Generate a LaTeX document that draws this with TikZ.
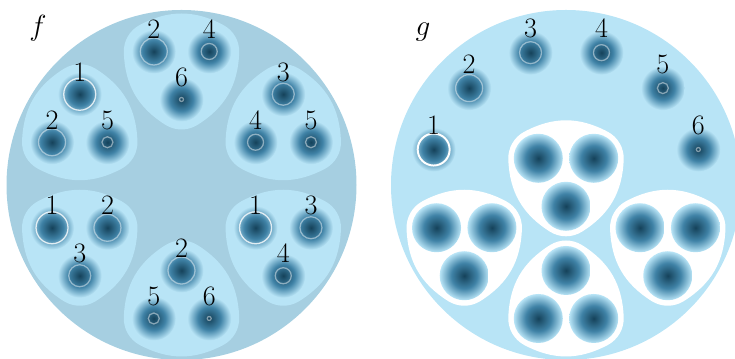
\documentclass[tikz,border=0pt]{standalone}
\usetikzlibrary{calc}

\definecolor{fondF}{HTML}{A6CFE1}
\definecolor{clair}{HTML}{B8E4F6}
\definecolor{sombre}{HTML}{15425A}
\definecolor{moyen}{HTML}{3F82A6}
\pgfdeclareradialshading{lueur}{\pgfpoint{0bp}{0bp}}{color(0bp)=(sombre); color(13bp)=(moyen); color(25bp)=(clair); color(50bp)=(clair)}

\tikzset{
  anneau/.style={draw=white, line width=.9pt},
  numero/.style={anchor=base, inner sep=0pt, font=\fontsize{20}{23}\selectfont},
}

% bulle arrondie : couleur, centre, rotation
\newcommand{\bulle}[3]{%
  \fill[#1, shift={(#2)}, rotate=#3] (0:32) ++(-32:30) arc[start angle=-32, end angle=32, radius=30]
    to[bend right=28] ([shift={(120:32)}]88:30) arc[start angle=88, end angle=152, radius=30]
    to[bend right=28] ([shift={(240:32)}]208:30) arc[start angle=208, end angle=272, radius=30]
    to[bend right=28] ([shift={(0:32)}]328:30) -- cycle;}

% tache numerotee : [anneau], nom, position, numero, decalage du numero
\newcommand{\tache}[5][anneau]{%
  \edef\rayonanneau{\ifcase#4 0\or 16\or 13.5\or 11\or 8\or 5.5\or 2\fi}%
  \edef\opaciteanneau{\ifnum#4=1 .8\else .45\fi}%
  \coordinate (#2) at (#3);
  \shade[shading=lueur] (#2) circle[radius=22];
  \draw[draw opacity=\opaciteanneau, #1] (#2) circle[radius=\rayonanneau];
  \node[numero] (#2-n) at ([shift={(0,#5)}]#2) {#4};}

% petite boule dans une bulle blanche
\newcommand{\boule}[2]{%
  \coordinate (#1) at (#2);
  \shade[shading=lueur] (#1) circle[radius=24.5];}

\begin{document}
\begin{tikzpicture}[x=0.25mm, y=0.25mm]
\useasboundingbox (0,0) rectangle (735,359);
\clip (0,0) rectangle (735,359);

% Disque f
\coordinate (F) at (181.5,174);
\fill[fondF] (F) circle[radius=175];
\node[numero] (nom-f) at (38,323) {$f$};

% Bulles de f
\coordinate (fA) at ($(F)+(90:117.5)$);
\coordinate (fB) at ($(F)+(150:117.5)$);
\coordinate (fC) at ($(F)+(30:117.5)$);
\coordinate (fD) at ($(F)+(210:117.5)$);
\coordinate (fE) at ($(F)+(330:117.5)$);
\coordinate (fG) at ($(F)+(270:117.5)$);
\bulle{clair}{fA}{30}
\bulle{clair}{fB}{90}
\bulle{clair}{fC}{90}
\bulle{clair}{fD}{30}
\bulle{clair}{fE}{30}
\bulle{clair}{fG}{90}

% Taches de f
\foreach \p/\n in {150/2, 30/4, 270/6} \tache{fA-\n}{$(fA)+(\p:32)$}{\n}{13};
\foreach \p/\n in {90/1, 210/2, 330/5} \tache{fB-\n}{$(fB)+(\p:32)$}{\n}{13};
\foreach \p/\n in {90/3, 210/4, 330/5} \tache{fC-\n}{$(fC)+(\p:32)$}{\n}{13};
\foreach \p/\n in {150/1, 30/2, 270/3} \tache{fD-\n}{$(fD)+(\p:32)$}{\n}{13};
\foreach \p/\n in {150/1, 30/3, 270/4} \tache{fE-\n}{$(fE)+(\p:32)$}{\n}{13};
\foreach \p/\n in {90/2, 210/5, 330/6} \tache{fG-\n}{$(fG)+(\p:32)$}{\n}{13};

% Disque g
\coordinate (G) at (566,174);
\fill[clair] (G) circle[radius=175];
\node[numero] (nom-g) at (423,323) {$g$};

% Taches numerotees de g
\tache[anneau, draw opacity=1, line width=1.4pt]{g-1}{$(G)+(165:137)$}{1}{15}
\foreach \n/\a in {2/135, 3/105, 4/75, 5/45, 6/15} \tache{g-\n}{$(G)+(\a:137)$}{\n}{15};

% Bulles blanches de g
\coordinate (gA) at ($(G)+(0,10.7)$);
\coordinate (gD) at ($(G)+(210:117.5)$);
\coordinate (gE) at ($(G)+(330:117.5)$);
\coordinate (gG) at ($(G)+(270:117.5)$);
\bulle{white}{gA}{30}
\bulle{white}{gD}{30}
\bulle{white}{gE}{30}
\bulle{white}{gG}{90}
\foreach \b in {gA, gD, gE} {
  \foreach \p in {150, 30, 270} \boule{\b-\p}{$(\b)+(\p:32)$};
}
\foreach \p in {90, 210, 330} \boule{gG-\p}{$(gG)+(\p:32)$};

\end{tikzpicture}
\end{document}
